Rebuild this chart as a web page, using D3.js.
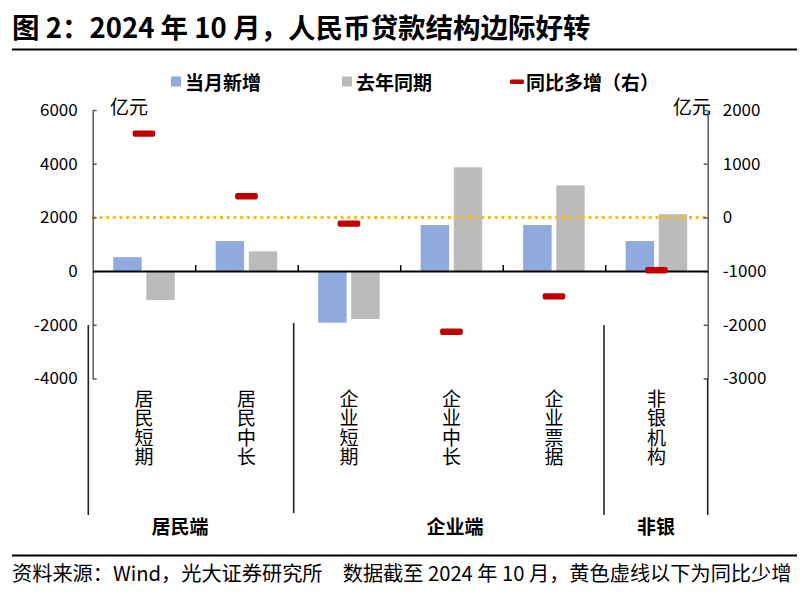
<!DOCTYPE html>
<html>
<head>
<meta charset="utf-8">
<script src="https://cdn.jsdelivr.net/npm/d3@7"></script>
<style>
  body { margin: 0; background: #fff; }
  svg { display: block; font-family: "Noto Sans CJK SC", "Noto Sans", sans-serif; }
</style>
</head>
<body>
<svg width="809" height="597"></svg>
<script>
// data (亿元)
var categories = ["居民短期", "居民中长", "企业短期", "企业中长", "企业票据", "非银机构"];
var groups = ["居民端", "企业端", "非银"];
var groupX = [180, 455, 656];
var current = [520, 1120, -1920, 1715, 1715, 1120];    // 当月新增
var lastYear = [-1075, 735, -1785, 3865, 3195, 2120];  // 去年同期
var yoy = [1560, 395, -115, -2130, -1470, -985];       // 同比多增（右）
var leftTicks = [-4000, -2000, 0, 2000, 4000, 6000];
var rightTicks = [-3000, -2000, -1000, 0, 1000, 2000];

function main() {
    var svg = d3.select("svg");
    var left = 92.7, right = 707.7, top = 110, bottom = 378.5;

    var x = d3.scaleBand().domain(categories).range([left, right]);
    var xs = d3.scaleBand().domain(["cur", "last"]).range([20.5, 82]).paddingInner(0.14);
    var yL = d3.scaleLinear().domain([-4000, 6000]).range([bottom, top]);
    var yR = d3.scaleLinear().domain([-3000, 2000]).range([bottom, top]);

    // title
    svg.append("text").attr("x", 12).attr("y", 37.5)
        .attr("font-size", 27.5).attr("font-weight", "bold").attr("fill", "#000")
        .text("图 2：2024 年 10 月，人民币贷款结构边际好转");
    svg.append("line").attr("x1", 12).attr("x2", 797).attr("y1", 49.5).attr("y2", 49.5)
        .attr("stroke", "#000").attr("stroke-width", 2.2);

    // legend
    var lg = svg.append("g").attr("font-size", 19).attr("font-weight", "bold");
    lg.append("rect").attr("x", 171).attr("y", 76.5).attr("width", 10).attr("height", 10).attr("fill", "#8FAADC");
    lg.append("text").attr("x", 185).attr("y", 81.5).attr("dominant-baseline", "central").text("当月新增");
    lg.append("rect").attr("x", 342).attr("y", 76.5).attr("width", 10).attr("height", 10).attr("fill", "#BBBBBB");
    lg.append("text").attr("x", 356).attr("y", 81.5).attr("dominant-baseline", "central").text("去年同期");
    lg.append("rect").attr("x", 510).attr("y", 79.5).attr("width", 14).attr("height", 4.5).attr("rx", 1.5).attr("fill", "#C00000");
    lg.append("text").attr("x", 526).attr("y", 81.5).attr("dominant-baseline", "central").text("同比多增（右）");

    // units
    svg.append("text").attr("x", 110).attr("y", 105.5).attr("font-size", 19)
        .attr("dominant-baseline", "central").text("亿元");
    svg.append("text").attr("x", 673).attr("y", 105).attr("font-size", 19)
        .attr("dominant-baseline", "central").text("亿元");

    // bars
    var rows = categories.map(function (c, i) {
        return { cat: c, cur: current[i], last: lastYear[i], yoy: yoy[i] };
    });
    var bars = svg.append("g");
    bars.selectAll(".cur").data(rows).enter().append("rect")
        .attr("class", "cur")
        .attr("x", function (d) { return x(d.cat) + xs("cur"); })
        .attr("y", function (d) { return yL(Math.max(0, d.cur)); })
        .attr("width", xs.bandwidth())
        .attr("height", function (d) { return Math.abs(yL(d.cur) - yL(0)); })
        .attr("fill", "#8FAADC");
    bars.selectAll(".last").data(rows).enter().append("rect")
        .attr("class", "last")
        .attr("x", function (d) { return x(d.cat) + xs("last"); })
        .attr("y", function (d) { return yL(Math.max(0, d.last)); })
        .attr("width", xs.bandwidth())
        .attr("height", function (d) { return Math.abs(yL(d.last) - yL(0)); })
        .attr("fill", "#BBBBBB");

    // yellow dotted line at right-axis zero
    svg.append("line").attr("x1", left).attr("x2", right)
        .attr("y1", yR(0)).attr("y2", yR(0))
        .attr("stroke", "#FFC000").attr("stroke-width", 3).attr("stroke-dasharray", "3,3.7");

    // plain hyphen for negatives, like the original
    var fmt = function (d) { return String(d); };

    // left axis
    var axL = svg.append("g").attr("transform", "translate(" + left + ",0)")
        .call(d3.axisLeft(yL).tickValues(leftTicks).tickFormat(fmt)
            .tickSize(-4).tickSizeOuter(0).tickPadding(15));
    axL.select(".domain").attr("stroke", "#595959").attr("stroke-width", 1.5);
    axL.selectAll(".tick line").attr("stroke", "#595959").attr("stroke-width", 1.5);
    axL.selectAll(".tick text").attr("font-size", 17).attr("fill", "#000")
        .attr("font-family", "'Noto Sans CJK SC', sans-serif");

    // right axis
    var axR = svg.append("g").attr("transform", "translate(" + right + ",0)")
        .call(d3.axisRight(yR).tickValues(rightTicks).tickFormat(fmt)
            .tickSize(-4).tickSizeOuter(0).tickPadding(15));
    axR.select(".domain").attr("stroke", "#595959").attr("stroke-width", 1.5);
    axR.selectAll(".tick line").attr("stroke", "#595959").attr("stroke-width", 1.5);
    axR.selectAll(".tick text").attr("font-size", 17).attr("fill", "#000")
        .attr("font-family", "'Noto Sans CJK SC', sans-serif");

    // category axis at zero, ticks at band edges pointing up
    var xEdge = d3.scaleLinear().domain([0, categories.length]).range([left, right]);
    var axX = svg.append("g").attr("transform", "translate(0," + yL(0) + ")")
        .call(d3.axisBottom(xEdge).tickValues([1, 2, 3, 4, 5]).tickSize(-6).tickSizeOuter(0).tickFormat(""));
    axX.select(".domain").attr("stroke", "#000").attr("stroke-width", 2);
    axX.selectAll(".tick line").attr("stroke", "#000").attr("stroke-width", 1.5);

    // yoy markers
    svg.selectAll(".yoy").data(rows).enter().append("rect")
        .attr("class", "yoy")
        .attr("x", function (d) { return x(d.cat) + x.bandwidth() / 2 - 11.3; })
        .attr("y", function (d) { return yR(d.yoy) - 3.2; })
        .attr("width", 22.6).attr("height", 6.4).attr("rx", 2)
        .attr("fill", "#C00000");

    // category labels, vertical
    svg.selectAll(".cat").data(rows).enter().append("text")
        .attr("class", "cat")
        .attr("x", function (d) { return x(d.cat) + x.bandwidth() / 2; })
        .attr("y", 389)
        .attr("font-size", 19)
        .style("writing-mode", "vertical-rl")
        .style("text-orientation", "upright")
        .style("letter-spacing", "0.4px")
        .text(function (d) { return d.cat; });

    // group separators
    var seps = [[88.3, 325, 515], [293.7, 323, 513], [604, 325, 515], [right, bottom, 515]];
    svg.selectAll(".sep").data(seps).enter().append("line")
        .attr("class", "sep")
        .attr("x1", function (d) { return d[0]; }).attr("x2", function (d) { return d[0]; })
        .attr("y1", function (d) { return d[1]; }).attr("y2", function (d) { return d[2]; })
        .attr("stroke", "#222").attr("stroke-width", 1.6);

    // group labels
    svg.selectAll(".grp").data(groups).enter().append("text")
        .attr("class", "grp")
        .attr("x", function (d, i) { return groupX[i]; })
        .attr("y", 525)
        .attr("text-anchor", "middle").attr("dominant-baseline", "central")
        .attr("font-size", 19).attr("font-weight", "bold")
        .text(function (d) { return d; });

    // source
    svg.append("line").attr("x1", 12).attr("x2", 797).attr("y1", 555.5).attr("y2", 555.5)
        .attr("stroke", "#000").attr("stroke-width", 2);
    svg.append("text").attr("x", 12).attr("y", 572).attr("font-size", 20.2)
        .attr("dominant-baseline", "central")
        .text("资料来源：Wind，光大证券研究所　数据截至 2024 年 10 月，黄色虚线以下为同比少增");
}
main();
</script>
</body>
</html>
